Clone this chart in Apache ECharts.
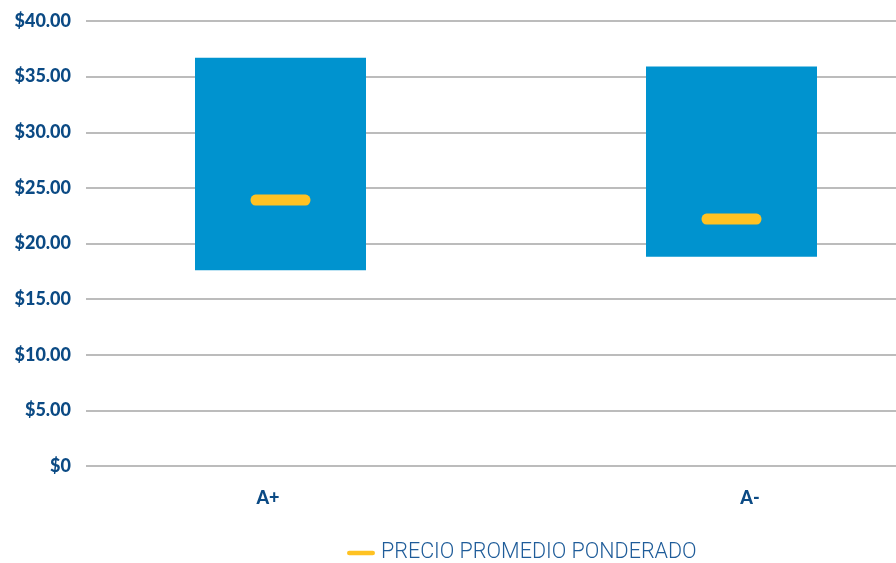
<!DOCTYPE html>
<html><head><meta charset="utf-8">
<script src="https://cdn.jsdelivr.net/npm/echarts@6/dist/echarts.min.js"></script>
<style>html,body{margin:0;padding:0;background:#fff}#c{width:896px;height:563px}</style>
</head><body><div id="c"></div>
<script>
const categories = ['A+', 'A-'];
const lowValues = [17.6, 18.8];
const highValues = [36.7, 35.9];
const avgValues = [23.9, 22.2];
const yTicks = [0, 5, 10, 15, 20, 25, 30, 35, 40];
const legendName = 'PRECIO PROMEDIO PONDERADO';

const blue = '#0093CF', yellow = '#FFC222', dark = '#0B4A84';
const pill = 'path://M5,0 H55 A5,5 0 0 1 55,10 H5 A5,5 0 0 1 5,0 Z';
const fmt = v => v === 0 ? '$0' : '$' + v.toFixed(2);

const chart = echarts.init(document.getElementById('c'), null, {renderer: 'canvas'});
const yBase = {type: 'value', min: yTicks[0], max: yTicks[yTicks.length - 1], interval: 5};
chart.setOption({
  animation: false,
  grid: [
    {left: 86, right: 0, top: 21, bottom: 97, outerBoundsMode: 'none'},
    {left: 55, width: 902, top: 21, bottom: 97, outerBoundsMode: 'none'},
    {left: 27, width: 964, top: 21, bottom: 97, outerBoundsMode: 'none'}
  ],
  xAxis: [
    {gridIndex: 0, type: 'category', data: categories, show: false},
    {gridIndex: 1, type: 'category', data: categories, show: false},
    {gridIndex: 2, type: 'category', data: categories,
     axisLine: {show: false}, axisTick: {show: false},
     axisLabel: {color: dark, fontFamily: 'Lato', fontWeight: 900, fontSize: 18, margin: 23}}
  ],
  yAxis: [
    Object.assign({gridIndex: 0,
      axisLine: {show: false}, axisTick: {show: false},
      axisLabel: {formatter: fmt, color: dark, fontFamily: 'Lato', fontWeight: 900, fontSize: 18, margin: 15},
      splitLine: {lineStyle: {color: '#A6A6A6', width: 1.5}}}, yBase),
    Object.assign({gridIndex: 1, show: false, splitLine: {show: false}}, yBase),
    Object.assign({gridIndex: 2, show: false, splitLine: {show: false}}, yBase)
  ],
  legend: {
    top: 542, left: 347, padding: 0,
    data: [{name: legendName, icon: pill}],
    itemWidth: 28, itemHeight: 8, itemGap: 6,
    textStyle: {color: '#1F5C99', fontFamily: 'Roboto', fontWeight: 300, fontSize: 21.5, padding: [0, 0, 0, 1]}
  },
  series: [
    {type: 'bar', xAxisIndex: 1, yAxisIndex: 1, stack: 'r', barWidth: 171,
     itemStyle: {color: 'transparent'}, data: lowValues, silent: true},
    {type: 'bar', xAxisIndex: 1, yAxisIndex: 1, stack: 'r', barWidth: 171,
     itemStyle: {color: blue}, data: highValues.map((h, i) => +(h - lowValues[i]).toFixed(2))},
    {type: 'scatter', name: legendName, xAxisIndex: 1, yAxisIndex: 1, symbol: pill,
     symbolSize: [60, 11], itemStyle: {color: yellow, opacity: 1}, data: avgValues, z: 5}
  ]
});
</script></body></html>
